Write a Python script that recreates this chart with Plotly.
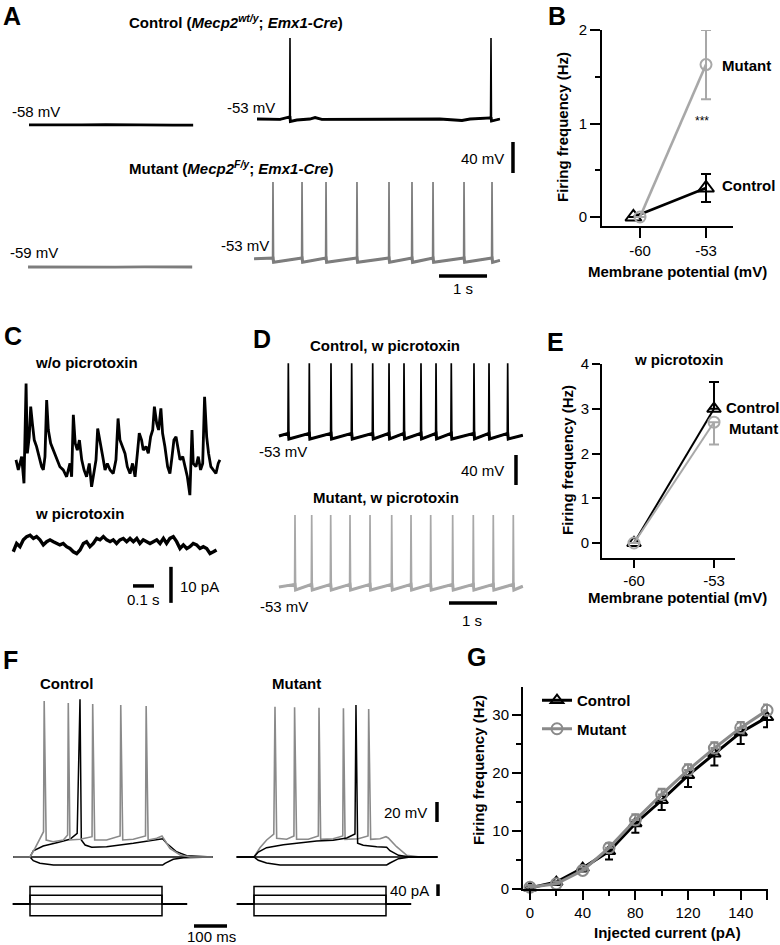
import plotly.graph_objects as go

W, H = 780, 945
FONT = "Liberation Sans, Arial, Helvetica, sans-serif"
BLACK = "#000000"
GRAY_A = "#7d7d7d"
GRAY_L = "#a8a8a8"
GRAY_F = "#8a8a8a"

# ================= DATA =================
# ---- Panel A : spontaneous activity (time s, Vm mV) ----
A_ctrl_left_t = [0.0, 0.5, 1.1, 1.6, 2.0, 2.5, 3.0, 3.42]
A_ctrl_left_v = [-60.6, -61.0, -60.6, -60.2, -60.5, -61.2, -61.0, -60.8]
A_ctrl_right_t = [4.75, 5.23, 5.43, 5.4375, 5.445, 5.58, 5.85, 5.96, 6.10, 6.90, 7.73, 8.56, 9.02, 9.19, 9.615, 9.625, 9.635, 9.81]
A_ctrl_right_v = [-53.0, -53.6, -50.4, 51.5, -56.2, -54.3, -53.0, -51.1, -53.6, -53.6, -53.0, -53.0, -54.9, -53.0, -51.7, 51.5, -55.6, -53.0]
A_ctrl_spike_peak = 51.5
A_mut_left_t = [-0.02, 0.6, 1.2, 1.8, 2.4, 3.0, 3.40]
A_mut_left_v = [-62.0, -62.3, -61.8, -62.1, -61.9, -62.3, -62.0]
A_mut_spikes = [5.083, 5.688, 6.188, 6.833, 7.500, 7.979, 8.417, 9.063, 9.646]
A_mut_t0, A_mut_t1 = 4.69, 9.81
A_mut_v0, A_mut_v1 = -51.5, -53.5
A_mut_thr, A_mut_peak, A_mut_ahp = -50.5, 47.6, -56.0

# ---- Panel B : firing frequency vs membrane potential ----
B_vm = [-60, -53]
B_ctrl = [0.0, 0.31]
B_ctrl_err = [0.0, 0.15]
B_mut = [0.0, 1.63]
B_mut_err = [0.0, 0.37]

# ---- Panel C : spontaneous currents (time ms, current pA) ----
C_wo_t = [0, 11, 27, 38, 48, 54, 63, 70, 78, 87, 98, 111, 122, 130, 138, 146, 154, 165, 178, 194,
          209, 225, 241, 257, 265, 273, 282, 292, 302, 313, 324, 336, 349, 360, 371, 381, 389, 400,
          413, 424, 435, 448, 463, 476, 486, 495, 508, 519, 530, 543, 555, 567, 578, 587, 598, 606,
          619, 630, 641, 651, 659, 670, 679, 690, 698, 709, 722, 733, 743, 752, 762, 771, 781, 794,
          805, 816, 828, 838, 844, 857, 868, 879, 889, 898, 908, 917, 928, 940, 952, 963, 971]
C_wo_i = [1.9, -0.9, 2.8, -4.6, 23.1, 3.7, 8.3, 16.7, 12.0, 7.4, 5.6, 2.8, 0.0, -0.9, 2.8, 18.5,
          10.2, 6.5, 4.6, 1.9, 0.0, -0.9, -2.8, 0.9, -2.8, 14.4, 6.5, 4.6, 7.4, 1.9, -0.9, -2.8, 0.9,
          -5.6, -0.9, 1.9, 10.6, 7.4, 2.8, -0.9, 0.9, -0.9, -1.9, 1.9, 13.4, 7.4, 5.6, 3.7, 0.0, -1.9,
          0.9, -2.8, 3.7, 9.3, 7.4, 4.6, 5.6, 3.7, 8.3, 10.2, 16.7, 12.0, 10.2, 16.2, 9.3, 5.6, 0.0,
          -1.9, 2.8, 7.4, 8.3, 4.6, 1.9, 2.8, 0.0, -2.8, -7.9, 10.2, 0.9, 0.0, 2.8, -0.9, 0.9, 19.4,
          8.3, 3.7, 0.0, -0.9, -1.9, 0.9, 1.9]
C_w_t = [-13, 3, 19, 35, 51, 67, 83, 98, 114, 130, 146, 162, 178, 194, 209, 225, 241, 257, 273,
         289, 305, 321, 336, 352, 368, 384, 400, 416, 432, 448, 463, 479, 495, 511, 527, 543, 559,
         575, 590, 606, 622, 638, 654, 670, 686, 702, 717, 733, 749, 765, 781, 797, 813, 828, 844,
         860, 876, 892, 908, 924, 940, 955]
C_w_i = [-1.4, 0.9, 0.0, 1.9, 2.8, 3.2, 2.3, 2.8, 1.9, 0.5, 1.4, 1.9, 1.4, 0.9, 0.5, 0.9, 0.0,
         -0.5, -1.4, -1.9, -0.9, 0.9, 1.4, 0.0, 0.9, 2.3, 1.9, 2.8, 1.9, 1.4, 1.9, 0.9, 1.9, 2.3,
         1.4, 2.3, 1.4, 2.3, 0.9, 1.9, 1.4, 0.9, 1.4, 1.9, 0.9, 2.3, 0.9, 2.3, 2.8, 1.4, -0.5, 0.5,
         -0.5, 0.0, 0.9, 0.5, -0.5, 0.0, -0.5, -1.9, -1.4, -0.9]

# ---- Panel D : firing with picrotoxin (time s, Vm mV) ----
D_ctrl_spikes = [0.215, 0.652, 1.104, 1.535, 1.973, 2.313, 2.625, 2.979, 3.292, 3.610, 4.083, 4.396, 4.785]
D_mut_spikes = [0.354, 0.702, 1.098, 1.500, 1.917, 2.369, 2.771, 3.181, 3.639, 4.069, 4.485, 4.902]
D_t0, D_t1 = 0.02, 5.10
D_thr, D_ahp = -49.5, -57.0
D_ctrl_peak, D_mut_peak = 44.0, 43.0

# ---- Panel E : firing frequency with picrotoxin ----
E_vm = [-60, -53]
E_ctrl = [0.0, 3.0]
E_ctrl_err_up = [0.0, 0.6]
E_mut = [0.0, 2.7]
E_mut_err_down = [0.0, 0.5]

# ---- Panel F : current-step responses (time ms, relative Vm mV) ----
F_ctrl_60_t = [-51, 0, 15, 33, 41, 43, 49, 70, 101, 114, 116, 121, 152, 188, 190, 196, 232, 273, 275,
               281, 313, 350, 352, 358, 384, 400, 404, 424, 455, 485, 553]
F_ctrl_60_v = [0, 0, 8.7, 20.3, 25.3, 156, 17, 15.3, 17, 22, 154, 17, 17.7, 20.3, 153, 17, 17, 21, 152,
               17, 17.7, 21, 151, 17, 18.7, 21, 18.7, 8.7, 2, 0, 0]
F_ctrl_30_t = [-51, 0, 10, 40, 81, 121, 143, 151.5, 155.5, 167, 187, 232, 313, 384, 402, 414, 444, 475, 553]
F_ctrl_30_v = [0, 0, 6.3, 11, 14.3, 17.7, 23.7, 157.7, 17, 12, 9.7, 10.3, 13.7, 17, 18.3, 13.7, 5.3, 1.3, 0]
F_ctrl_0_t = [-51, 553]
F_ctrl_0_v = [0, 0]
F_ctrl_m40_t = [-51, 0, 10, 30, 71, 402, 409, 434, 465, 553]
F_ctrl_m40_v = [0, 0, -3.7, -6.3, -8, -8, -6.3, -2.3, -0.7, 0]

F_mut_60_t = [-52.5, 0, 18, 38.4, 60, 63.6, 68.7, 99, 121, 123, 129, 164.6, 195, 197, 202, 240, 269,
              271, 276, 316, 345.5, 347.5, 353.5, 382, 400, 407, 432, 463, 503, 556]
F_mut_60_v = [0, 0, 9.3, 17, 23, 150.3, 18.7, 17.7, 21, 149.7, 17.7, 17.7, 21, 149.3, 17.7, 18.3, 21,
              148.7, 17.7, 18.3, 21, 148, 17.7, 18.3, 20.3, 19, 10.3, 1.7, 0, 0]
F_mut_30_t = [-52.5, 0, 13, 38, 89, 139, 190, 240, 281, 306, 309, 314, 331, 372, 402, 412, 438, 473, 556]
F_mut_30_v = [0, 0, 5, 9.3, 12.3, 14, 16, 16.7, 19, 23, 152, 13.7, 11.7, 10.3, 9.7, 6.3, 1.7, 0, 0]
F_mut_0_t = [-52.5, 556]
F_mut_0_v = [0, 0]
F_mut_m40_t = [-52.5, 0, 13, 38, 79, 402, 412, 438, 473, 556]
F_mut_m40_v = [0, 0, -3.3, -6, -8, -8, -6, -1.7, 0, 0]

F_step_levels = [60, 30, 0, -40]          # pA
F_step_on, F_step_off = 0, 400            # ms
F_cur_t0, F_cur_t1 = -52, 476             # ms

# ---- Panel G : f-I curve ----
G_current = [0, 20, 40, 60, 80, 100, 120, 140, 160, 180]
G_ctrl = [0.2, 1.2, 3.6, 6.5, 11.3, 15.3, 19.6, 23.3, 27.0, 29.6]
G_ctrl_err = [0.5, 0.5, 0.6, 1.4, 1.6, 1.7, 2.0, 2.0, 2.0, 1.7]
G_mut = [0.3, 0.9, 3.2, 7.1, 11.9, 16.3, 20.5, 24.3, 27.8, 30.8]
G_mut_err = [0.4, 0.4, 0.5, 0.8, 1.0, 1.0, 1.0, 1.0, 1.0, 1.0]
G_tickvals = [0, 40, 80, 120, 160, 180]
G_ticktext = ["0", "40", "80", "120", "140", " "]


# ================= HELPERS =================
def spike_train(t0, t1, spikes, v0, v1, thr, peak, ahp, rise, fall):
    t, v = [t0], [v0]
    for s in spikes:
        t += [s - rise, s, s + fall]
        v += [thr, peak, ahp]
    t.append(t1)
    v.append(v1)
    return t, v


def step_trace(level):
    return ([F_cur_t0, F_step_on, F_step_on, F_step_off, F_step_off, F_cur_t1],
            [0, 0, level, level, 0, 0])


def dom_x(x0, x1):
    return [x0 / W, x1 / W]


def dom_y(y0, y1):
    return [1 - y1 / H, 1 - y0 / H]


def rng_x(x0, x1, ref_px, ref_val, ppu):
    return [ref_val + (x0 - ref_px) / ppu, ref_val + (x1 - ref_px) / ppu]


def rng_y(y0, y1, ref_px, ref_val, ppu):
    return [ref_val - (y1 - ref_px) / ppu, ref_val - (y0 - ref_px) / ppu]


fig = go.Figure()
layout_axes = {}


def add_axes(n, box, xcal, ycal, visible=False, xextra=None, yextra=None):
    x0, y0, x1, y1 = box
    xa = dict(domain=dom_x(x0, x1), range=rng_x(x0, x1, *xcal), anchor="y%d" % n,
              showgrid=False, zeroline=False, fixedrange=True)
    ya = dict(domain=dom_y(y0, y1), range=rng_y(y0, y1, *ycal), anchor="x%d" % n,
              showgrid=False, zeroline=False, fixedrange=True)
    if not visible:
        xa["visible"] = False
        ya["visible"] = False
    else:
        common = dict(showline=True, linecolor=BLACK, linewidth=2, ticks="outside",
                      tickcolor=BLACK, tickwidth=2,
                      tickfont=dict(family=FONT, size=15, color=BLACK))
        xa.update(common)
        ya.update(common)
    if xextra:
        xa.update(xextra)
    if yextra:
        ya.update(yextra)
    layout_axes["xaxis%d" % n] = xa
    layout_axes["yaxis%d" % n] = ya


def line(n, t, v, color, width, **kw):
    fig.add_trace(go.Scatter(x=t, y=v, mode="lines", xaxis="x%d" % n, yaxis="y%d" % n,
                             line=dict(color=color, width=width), hoverinfo="skip",
                             showlegend=False, **kw))


shapes = []


def sbar(n, x0, y0, x1, y1, w=3.5):
    shapes.append(dict(type="line", xref="x%d" % n, yref="y%d" % n, x0=x0, y0=y0, x1=x1, y1=y1,
                       line=dict(color=BLACK, width=w)))


annotations = []


def txt(x, y, s, size=15, bold=False, anchor="center", angle=0, color=BLACK):
    if bold:
        s = "<b>" + s + "</b>"
    annotations.append(dict(x=x / W, y=1 - y / H, xref="paper", yref="paper", text=s,
                            showarrow=False, xanchor=anchor, yanchor="middle", textangle=angle,
                            font=dict(family=FONT, size=size, color=color)))


# ================= PANEL A =================
# pixel calibration: t=0 s at px 29, 48 px/s ; -53 mV at px 119 (row 1) / 260 (row 2), 0.775 px/mV
add_axes(1, (20, 30, 525, 180), (29, 0, 48), (119, -53, 0.775))
add_axes(2, (20, 175, 525, 290), (29, 0, 48), (260, -53, 0.775))
line(1, A_ctrl_left_t, A_ctrl_left_v, BLACK, 2.8)
line(1, A_ctrl_right_t, A_ctrl_right_v, BLACK, 1.6)
# thicker (noisy) sub-threshold band of the same trace
A_ctrl_sub_v = [A_mut_thr if v == A_ctrl_spike_peak else v for v in A_ctrl_right_v]
line(1, A_ctrl_right_t, A_ctrl_sub_v, BLACK, 2.8)
line(2, A_mut_left_t, A_mut_left_v, GRAY_A, 2.8)
mt, mv = spike_train(A_mut_t0, A_mut_t1, A_mut_spikes, A_mut_v0, A_mut_v1,
                     A_mut_thr, A_mut_peak, A_mut_ahp, 0.008, 0.012)
line(2, mt, mv, GRAY_A, 1.7)
mt, mv = spike_train(A_mut_t0, A_mut_t1, A_mut_spikes, A_mut_v0, A_mut_v1,
                     A_mut_thr, A_mut_thr, A_mut_ahp, 0.008, 0.012)
line(2, mt, mv, GRAY_A, 3.0)
sbar(1, 10.083, -53 - (142 - 119) / 0.775, 10.083, -53 - (142 - 119) / 0.775 - 40)
sbar(2, 8.542, -73.6, 9.542, -73.6)

# ================= PANEL B =================
add_axes(3, (602, 30, 733, 226), (640, -60, 9.43), (217, 0, 93.5), visible=True,
         xextra=dict(tickvals=B_vm, ticktext=["-60", "-53"], ticklen=10),
         yextra=dict(tickvals=[0, 1, 2], ticktext=["0", "1", "2"], ticklen=10,
                     minor=dict(tickvals=[0.5, 1.5], ticklen=5, tickwidth=2, tickcolor=BLACK,
                                ticks="outside", showgrid=False)))
B_ctrl_x = [B_vm[0] - 0.7, B_vm[1]]
fig.add_trace(go.Scatter(x=B_ctrl_x, y=B_ctrl, xaxis="x3", yaxis="y3", mode="lines+markers",
                         line=dict(color=BLACK, width=2.6),
                         marker=dict(symbol="triangle-up-open", size=14, color=BLACK,
                                     line=dict(width=2, color=BLACK)),
                         error_y=dict(type="data", array=B_ctrl_err, color=BLACK, thickness=2, width=5),
                         cliponaxis=False, showlegend=False, hoverinfo="skip"))
fig.add_trace(go.Scatter(x=B_vm, y=B_mut, xaxis="x3", yaxis="y3", mode="lines+markers",
                         line=dict(color=GRAY_L, width=2.6),
                         marker=dict(symbol="circle-open", size=11, color=GRAY_L,
                                     line=dict(width=2, color=GRAY_L)),
                         error_y=dict(type="data", array=B_mut_err, color=GRAY_L, thickness=2, width=5),
                         cliponaxis=False, showlegend=False, hoverinfo="skip"))

# ================= PANEL C =================
add_axes(4, (10, 375, 230, 505), (16, 0, 0.21), (466.7, 0, 3.6))
add_axes(5, (10, 520, 230, 612), (16, 0, 0.21), (546.7, 0, 3.6))
line(4, C_wo_t, C_wo_i, BLACK, 2.8)
line(5, C_w_t, C_w_i, BLACK, 3.4)
sbar(5, 557, -10.9, 657, -10.9)
sbar(5, 738, -5.6, 738, -15.6)

# ================= PANEL D =================
add_axes(6, (250, 355, 530, 492), (278, 0, 48), (436, -53, 0.75))
add_axes(7, (250, 505, 530, 612), (278, 0, 48), (587, -53, 0.75))
for n, spk, peak, col in [(6, D_ctrl_spikes, D_ctrl_peak, BLACK), (7, D_mut_spikes, D_mut_peak, GRAY_L)]:
    dt, dv = spike_train(D_t0, D_t1, spk, -53, -52, D_thr, peak, D_ahp, 0.008, 0.012)
    line(n, dt, dv, col, 1.7)
    dt, dv = spike_train(D_t0, D_t1, spk, -53, -52, D_thr, D_thr, D_ahp, 0.008, 0.012)
    line(n, dt, dv, col, 3.0)
sbar(6, 4.958, -78.3, 4.958, -118.3)
sbar(7, 3.5625, -74.3, 4.5625, -74.3)

# ================= PANEL E =================
add_axes(8, (602, 364, 735, 558), (634, -60, 11.43), (543, 0, 44.75), visible=True,
         xextra=dict(tickvals=E_vm, ticktext=["-60", "-53"], ticklen=8),
         yextra=dict(tickvals=[0, 1, 2, 3, 4], ticktext=["0", "1", "2", "3", "4"], ticklen=8))
fig.add_trace(go.Scatter(x=E_vm, y=E_ctrl, xaxis="x8", yaxis="y8", mode="lines+markers",
                         line=dict(color=BLACK, width=2),
                         marker=dict(symbol="triangle-up-open", size=12, color=BLACK,
                                     line=dict(width=2, color=BLACK)),
                         error_y=dict(type="data", array=E_ctrl_err_up, arrayminus=[0, 0],
                                      color=BLACK, thickness=2, width=5),
                         cliponaxis=False, showlegend=False, hoverinfo="skip"))
fig.add_trace(go.Scatter(x=E_vm, y=E_mut, xaxis="x8", yaxis="y8", mode="lines+markers",
                         line=dict(color=GRAY_L, width=2),
                         marker=dict(symbol="circle-open", size=11, color=GRAY_L,
                                     line=dict(width=2, color=GRAY_L)),
                         error_y=dict(type="data", array=[0, 0], arrayminus=E_mut_err_down,
                                      color=GRAY_L, thickness=2, width=5),
                         cliponaxis=False, showlegend=False, hoverinfo="skip"))

# ================= PANEL F =================
add_axes(9, (10, 690, 232, 874), (30, 0, 0.33), (857, 0, 1.0))
add_axes(10, (232, 690, 445, 874), (254, 0, 0.33), (857, 0, 1.0))
add_axes(11, (10, 878, 232, 932), (30, 0, 0.33), (904, 0, 0.2925))
add_axes(12, (232, 878, 445, 932), (254, 0, 0.33), (904, 0, 0.2925))
line(9, F_ctrl_m40_t, F_ctrl_m40_v, BLACK, 1.5)
line(9, F_ctrl_0_t, F_ctrl_0_v, BLACK, 1.5)
line(9, F_ctrl_30_t, F_ctrl_30_v, BLACK, 1.5)
line(9, F_ctrl_60_t, F_ctrl_60_v, GRAY_F, 1.6)
line(10, F_mut_60_t, F_mut_60_v, GRAY_F, 1.6)
line(10, F_mut_m40_t, F_mut_m40_v, BLACK, 1.5)
line(10, F_mut_0_t, F_mut_0_v, BLACK, 1.5)
line(10, F_mut_30_t, F_mut_30_v, BLACK, 1.5)
for lvl in F_step_levels:
    st, si = step_trace(lvl)
    line(11, st, si, BLACK, 1.5)
    line(12, st, si, BLACK, 1.5)
sbar(10, 554.5, 35, 554.5, 55)
sbar(12, 557.6, 27.4, 557.6, 67.4)
sbar(11, 497, -75.2, 597, -75.2)

# ================= PANEL G =================
add_axes(13, (523, 687, 768, 889), (530, 0, 1.317), (889, 0, 5.8), visible=True,
         xextra=dict(tickvals=G_tickvals, ticktext=G_ticktext, ticklen=9,
                     minor=dict(tickvals=[20, 60, 100, 140], ticklen=5, tickwidth=2,
                                tickcolor=BLACK, ticks="outside", showgrid=False)),
         yextra=dict(tickvals=[0, 10, 20, 30], ticktext=["0", "10", "20", "30"], ticklen=9,
                     minor=dict(tickvals=[5, 15, 25], ticklen=5, tickwidth=2,
                                tickcolor=BLACK, ticks="outside", showgrid=False)))
fig.add_trace(go.Scatter(x=G_current, y=G_ctrl, xaxis="x13", yaxis="y13", mode="lines+markers",
                         name="<b>Control</b>", legendgroup="c",
                         line=dict(color=BLACK, width=3),
                         marker=dict(symbol="triangle-up-open", size=11, color=BLACK,
                                     line=dict(width=2, color=BLACK)),
                         error_y=dict(type="data", array=[0] * len(G_ctrl_err), arrayminus=G_ctrl_err,
                                      color=BLACK, thickness=2, width=4),
                         cliponaxis=False, showlegend=True, hoverinfo="skip"))
fig.add_trace(go.Scatter(x=G_current, y=G_mut, xaxis="x13", yaxis="y13", mode="lines+markers",
                         name="<b>Mutant</b>", legendgroup="m",
                         line=dict(color=GRAY_F, width=3),
                         marker=dict(symbol="circle-open", size=11, color=GRAY_F,
                                     line=dict(width=2, color=GRAY_F)),
                         error_y=dict(type="data", array=G_mut_err, arrayminus=[0] * len(G_mut_err),
                                      color=GRAY_F, thickness=2, width=4),
                         cliponaxis=False, showlegend=True, hoverinfo="skip"))

# ================= TEXT =================
for lab, x, y in [("A", 12, 16), ("B", 557, 16), ("C", 13, 336), ("D", 262, 339),
                  ("E", 555, 342), ("F", 10, 660), ("G", 476, 657)]:
    txt(x, y, lab, size=25, bold=True)

txt(236, 21, "Control (<i>Mecp2<sup>wt/y</sup></i>; <i>Emx1-Cre</i>)", bold=True)
txt(231, 167, "Mutant (<i>Mecp2<sup>F/y</sup></i>; <i>Emx1-Cre</i>)", bold=True)
txt(10, 112, "-58 mV", anchor="left")
txt(225, 107, "-53 mV", anchor="left")
txt(8, 253, "-59 mV", anchor="left")
txt(219, 246, "-53 mV", anchor="left")
txt(506, 158, "40 mV", anchor="right")
txt(463, 288, "1 s")

txt(702, 121, "***", size=12)
txt(720, 65, "Mutant", bold=True, anchor="left")
txt(720, 186, "Control", bold=True, anchor="left")
txt(677, 272, "Membrane potential (mV)", bold=True)
txt(562, 127, "Firing frequency (Hz)", bold=True, angle=-90)

txt(33, 362, "w/o picrotoxin", bold=True, anchor="left")
txt(33, 513, "w picrotoxin", bold=True, anchor="left")
txt(143, 599, "0.1 s")
txt(178, 586, "10 pA", anchor="left")

txt(385, 345, "Control, w picrotoxin", bold=True)
txt(257, 451, "-53 mV", anchor="left")
txt(506, 470, "40 mV", anchor="right")
txt(386, 497, "Mutant, w picrotoxin", bold=True)
txt(258, 606, "-53 mV", anchor="left")
txt(472, 620, "1 s")

txt(678, 359, "w picrotoxin", bold=True)
txt(724, 407, "Control", bold=True, anchor="left")
txt(727, 428, "Mutant", bold=True, anchor="left")
txt(677, 597, "Membrane potential (mV)", bold=True)
txt(567, 460, "Firing frequency (Hz)", bold=True, angle=-90)

txt(38, 683, "Control", bold=True, anchor="left")
txt(270, 683, "Mutant", bold=True, anchor="left")
txt(429, 812, "20 mV", anchor="right")
txt(431, 890, "40 pA", anchor="right")
txt(211, 936, "100 ms")

txt(667, 932, "Injected current (pA)", bold=True)
txt(478, 770, "Firing frequency (Hz)", bold=True, angle=-90)

fig.update_layout(
    width=W, height=H, autosize=False,
    margin=dict(l=0, r=0, t=0, b=0, pad=0, autoexpand=False),
    paper_bgcolor="white", plot_bgcolor="rgba(0,0,0,0)",
    font=dict(family=FONT, size=15, color=BLACK),
    showlegend=True,
    legend=dict(x=537 / W, y=1 - 684 / H, xanchor="left", yanchor="top",
                bgcolor="rgba(0,0,0,0)", borderwidth=0, traceorder="grouped",
                tracegroupgap=6, font=dict(family=FONT, size=15, color=BLACK)),
    shapes=shapes, annotations=annotations,
    **layout_axes,
)

fig.write_html("out.html", config={"displayModeBar": False, "staticPlot": True},
               post_script="document.body.style.margin='0';document.body.style.padding='0';")
